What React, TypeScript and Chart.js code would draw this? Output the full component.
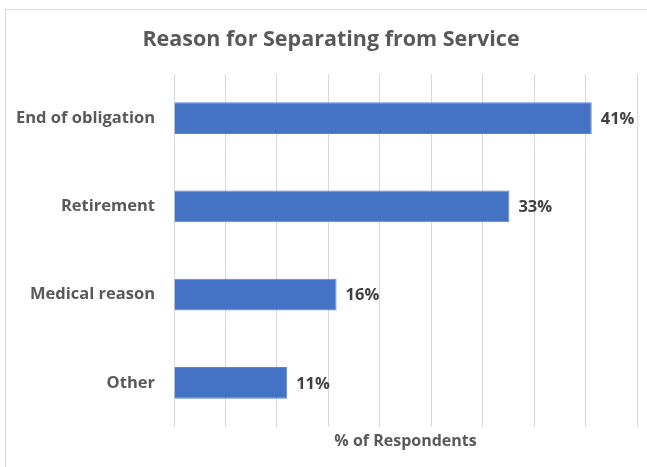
import React, { useEffect, useRef } from "react";
import { Chart, registerables } from "chart.js";

Chart.register(...registerables);

const chartTitle = "Reason for Separating from Service";
const categories = ["End of obligation", "Retirement", "Medical reason", "Other"];
const respondentPct = [40.6, 32.6, 15.8, 11.0];
const axisTitle = "% of Respondents";
const xMin = 0;
const xMax = 45;
const xStep = 5;

const FONT = "'Open Sans', Lato, sans-serif";

const overlayPlugin = {
  id: "overlay",
  afterDatasetsDraw(chart: any) {
    const ctx = chart.ctx;
    ctx.save();
    // title
    ctx.fillStyle = "#595959";
    ctx.font = `bold 21.5px ${FONT}`;
    ctx.textAlign = "center";
    ctx.textBaseline = "middle";
    ctx.fillText(chartTitle, 331, 40);
    // data labels
    const meta = chart.getDatasetMeta(0);
    ctx.fillStyle = "#404040";
    ctx.font = `bold 16.5px ${FONT}`;
    ctx.textAlign = "left";
    meta.data.forEach((bar: any, i: number) => {
      const v = chart.data.datasets[0].data[i] as number;
      ctx.fillText(`${Math.round(v)}%`, bar.x + 9, bar.y + 1);
    });
    ctx.restore();
  },
};

export default function App() {
  const ref = useRef<HTMLCanvasElement>(null);
  useEffect(() => {
    if (!ref.current) return;
    const chart = new Chart(ref.current, {
      type: "bar",
      data: {
        labels: categories,
        datasets: [
          {
            data: respondentPct,
            backgroundColor: "#4472C4",
            borderColor: "#5B85D0",
            borderWidth: 1,
            barPercentage: 0.6,
            categoryPercentage: 0.6,
          },
        ],
      },
      options: {
        indexAxis: "y",
        responsive: false,
        animation: false,
        layout: { padding: { top: 74, right: 10, bottom: 0, left: 0 } },
        plugins: {
          legend: { display: false },
          title: { display: false },
          tooltip: { enabled: false },
        },
        scales: {
          x: {
            min: xMin,
            max: xMax,
            ticks: { display: false, stepSize: xStep },
            grid: { color: "#d9d9d9", lineWidth: 1, drawTicks: false },
            border: { display: false },
            title: {
              display: true,
              text: axisTitle,
              color: "#595959",
              font: { family: FONT, size: 16, weight: "bold" },
              padding: { top: 0, bottom: 16 },
            },
            afterFit(scale: any) {
              scale.height = 40;
            },
          },
          y: {
            grid: { display: false, drawTicks: false },
            border: { display: false },
            ticks: {
              color: "#595959",
              padding: 19,
              font: { family: FONT, size: 16.5, weight: "bold" },
            },
            afterFit(scale: any) {
              scale.width = 174;
            },
          },
        },
      },
      plugins: [overlayPlugin],
    });
    return () => chart.destroy();
  }, []);
  return (
    <div style={{ position: "absolute", left: 0, top: 0, width: 647, height: 467, overflow: "hidden", background: "#ffffff" }}>
      <div style={{ position: "absolute", left: 5, top: 9, width: 680, height: 500, border: "1px solid #d9d9d9", boxSizing: "border-box" }} />
      <canvas ref={ref} width={647} height={467} style={{ position: "absolute", left: 0, top: 0, width: 647, height: 467 }} />
    </div>
  );
}
